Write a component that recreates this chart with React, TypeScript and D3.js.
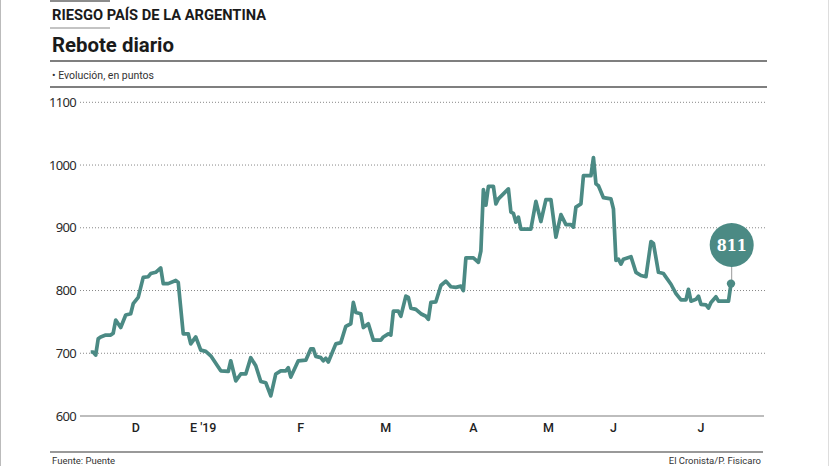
import { useEffect, useRef } from 'react'
import * as d3 from 'd3'

// trading-session index (from first session shown) and EMBI value in points
const sessions = [
  0, 1, 2, 3, 4, 6, 8, 9, 10, 12, 14, 16, 17, 19, 21, 23, 24, 26, 28, 29, 31, 34, 35, 37, 39, 40,
  42, 44, 46, 48, 52, 55, 56, 58, 60, 62, 64, 66, 68, 70, 72, 74, 76, 78, 79, 80, 83, 86, 88, 89,
  90, 92, 93, 94, 95, 98, 100, 102, 104, 105, 106, 108, 109, 111, 113, 116, 117, 119, 120, 121, 123,
  124, 126, 127, 128, 130, 132, 134, 135, 136, 138, 140, 142, 144, 146, 148, 149, 150, 153, 155, 156,
  157, 158, 159, 161, 162, 163, 167, 168, 169, 170, 171, 172, 176, 178, 180, 182, 184, 186, 188, 190,
  192, 193, 194, 196, 197, 200, 201, 202, 203, 205, 208, 209, 210, 211, 212, 213, 216, 218, 220, 222,
  224, 225, 227, 229, 232, 234, 236, 238, 239, 240, 242, 243, 244, 246, 247, 248, 250, 251, 255, 256,
]
const values = [
  702, 702, 697, 723, 726, 729, 729, 732, 753, 741, 761, 763, 779, 789, 821, 822, 827, 829, 836, 811,
  811, 816, 813, 731, 731, 715, 726, 705, 703, 696, 672, 671, 688, 656, 667, 667, 693, 680, 655, 653,
  632, 667, 672, 672, 677, 662, 688, 689, 707, 707, 695, 693, 688, 692, 686, 715, 717, 743, 747, 781,
  765, 763, 741, 747, 721, 721, 726, 731, 729, 767, 767, 759, 791, 789, 772, 770, 763, 759, 754, 781,
  782, 808, 815, 806, 805, 807, 800, 852, 852, 845, 863, 961, 936, 966, 966, 938, 946, 962, 925, 923,
  909, 917, 898, 898, 942, 910, 945, 945, 885, 921, 905, 905, 901, 933, 938, 983, 983, 1012, 970, 967,
  948, 946, 930, 848, 850, 842, 850, 854, 829, 824, 822, 878, 875, 829, 827, 810, 795, 785, 785, 802,
  783, 786, 791, 778, 777, 772, 781, 790, 783, 783, 811,
]

const monthLabels = ['D', "E '19", 'F', 'M', 'A', 'M', 'J', 'J']
const monthSessions = [18, 45, 84, 118, 153, 183, 209, 244]
const yTicks = [600, 700, 800, 900, 1000, 1100]

const TEAL = '#4b8a84'
const W = 829
const H = 466

export default function App() {
  const ref = useRef<SVGSVGElement | null>(null)

  useEffect(() => {
    const svg = d3.select(ref.current)
    svg.selectAll('*').remove()
    svg.attr('width', W).attr('height', H)

    svg.append('rect').attr('width', W).attr('height', H).attr('fill', '#fff')
    // faint page borders
    svg.append('line').attr('x1', 0.5).attr('x2', 0.5).attr('y1', 0).attr('y2', H).attr('stroke', '#bbb')
    svg.append('line').attr('x1', W - 0.5).attr('x2', W - 0.5).attr('y1', 0).attr('y2', H).attr('stroke', '#ddd')

    const sans = 'Roboto, "Noto Sans", sans-serif'

    // header
    svg.append('line').attr('x1', 50).attr('x2', 110).attr('y1', 1).attr('y2', 1).attr('stroke', '#666').attr('stroke-width', 1.5)
    svg.append('text')
      .attr('x', 52).attr('y', 20)
      .attr('font-family', sans).attr('font-weight', 700).attr('font-size', 15.5)
      .attr('fill', '#1a1a1a')
      .attr('textLength', 214).attr('lengthAdjust', 'spacingAndGlyphs')
      .text('RIESGO PAÍS DE LA ARGENTINA')
    svg.append('line').attr('x1', 50).attr('x2', 110).attr('y1', 28).attr('y2', 28).attr('stroke', '#888').attr('stroke-width', 1)
    svg.append('text')
      .attr('x', 52).attr('y', 52)
      .attr('font-family', sans).attr('font-weight', 700).attr('font-size', 20.5)
      .attr('fill', '#1a1a1a')
      .attr('textLength', 122).attr('lengthAdjust', 'spacingAndGlyphs')
      .text('Rebote diario')
    svg.append('line').attr('x1', 50).attr('x2', 767).attr('y1', 61).attr('y2', 61).attr('stroke', '#555').attr('stroke-width', 1.5)
    svg.append('text')
      .attr('x', 52).attr('y', 78.5)
      .attr('font-family', sans).attr('font-size', 10.5)
      .attr('fill', '#333')
      .text('• Evolución, en puntos')
    svg.append('line').attr('x1', 50).attr('x2', 767).attr('y1', 87).attr('y2', 87).attr('stroke', '#555').attr('stroke-width', 1.5)

    // scales
    const x = d3.scaleLinear().domain([0, 256]).range([90.7, 731])
    const y = d3.scaleLinear().domain([600, 1100]).range([416, 102.3])

    // grid
    const grid = svg.append('g')
    yTicks.forEach((t) => {
      if (t === 600) {
        grid.append('line').attr('x1', 80).attr('x2', 764).attr('y1', y(t)).attr('y2', y(t))
          .attr('stroke', '#bdbdbd').attr('stroke-width', 2)
      } else {
        grid.append('line').attr('x1', 80).attr('x2', 767).attr('y1', y(t)).attr('y2', y(t))
          .attr('stroke', '#888').attr('stroke-width', 1).attr('stroke-dasharray', '1 2')
      }
      grid.append('text')
        .attr('x', 76).attr('y', y(t) + 4.5)
        .attr('text-anchor', 'end')
        .attr('font-family', '"Noto Sans", sans-serif').attr('font-size', 13)
        .attr('fill', '#2a2a2a')
        .attr('letter-spacing', -0.7)
        .text(t)
    })

    // month labels
    monthLabels.forEach((m, i) => {
      svg.append('text')
        .attr('x', x(monthSessions[i])).attr('y', 432)
        .attr('text-anchor', 'middle')
        .attr('font-family', sans).attr('font-weight', 500).attr('font-size', 12.5)
        .attr('fill', '#222')
        .text(m)
    })

    // series
    const data = sessions.map((s, i) => ({ s, v: values[i] }))
    const line = d3.line<{ s: number; v: number }>().x((d) => x(d.s)).y((d) => y(d.v))
    svg.append('path')
      .datum(data)
      .attr('fill', 'none')
      .attr('stroke', TEAL)
      .attr('stroke-width', 3.7)
      .attr('stroke-linejoin', 'round')
      .attr('d', line as any)

    // last value callout
    const last = data[data.length - 1]
    const lx = x(last.s)
    const ly = y(last.v)
    const by = 245
    svg.append('line').attr('x1', lx + 0.7).attr('x2', lx + 0.7).attr('y1', by + 20).attr('y2', ly).attr('stroke', '#999').attr('stroke-width', 1)
    svg.append('circle').attr('cx', lx).attr('cy', ly).attr('r', 4.2).attr('fill', TEAL)
    svg.append('circle').attr('cx', lx + 0.7).attr('cy', by).attr('r', 22).attr('fill', TEAL)
    svg.append('text')
      .attr('x', lx + 0.7).attr('y', by + 6)
      .attr('text-anchor', 'middle')
      .attr('font-family', '"DejaVu Serif", serif').attr('font-weight', 700).attr('font-size', 16.5)
      .attr('fill', '#fff')
      .attr('textLength', 30).attr('lengthAdjust', 'spacingAndGlyphs')
      .text(last.v)

    // footer
    svg.append('line').attr('x1', 50).attr('x2', 763).attr('y1', 452).attr('y2', 452).attr('stroke', '#777').attr('stroke-width', 1.5)
    svg.append('text')
      .attr('x', 52).attr('y', 464)
      .attr('font-family', sans).attr('font-size', 9.5)
      .attr('fill', '#333')
      .text('Fuente: Puente')
    svg.append('text')
      .attr('x', 761).attr('y', 464)
      .attr('text-anchor', 'end')
      .attr('font-family', sans).attr('font-size', 9.5)
      .attr('fill', '#333')
      .text('El Cronista/P. Fisicaro')
  }, [])

  return <svg ref={ref} style={{ position: 'absolute', left: 0, top: 0, display: 'block' }} />
}
